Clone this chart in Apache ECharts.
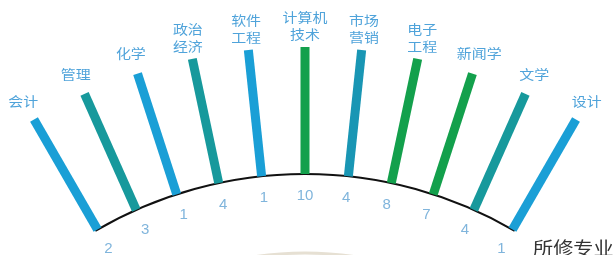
<!DOCTYPE html>
<html>
<head>
<meta charset="utf-8">
<script src="https://cdn.jsdelivr.net/npm/echarts@6/dist/echarts.min.js"></script>
<style>
html,body{margin:0;padding:0;background:#fff;}
#chart{width:615px;height:255px;}
</style>
</head>
<body>
<div id="chart"></div>
<script>
const categories = ['会计','管理','化学','政治\n经济','软件\n工程','计算机\n技术','市场\n营销','电子\n工程','新闻学','文学','设计'];
const counts = [2, 3, 1, 4, 1, 10, 4, 8, 7, 4, 1];
const barColors = ['#1a9fd6','#17999c','#1a9fd6','#17999c','#1a9fd6','#13a04c','#1996b4','#13a04c','#13a04c','#17999c','#1a9fd6'];
const axisTitle = '所修专业';

// radial positions (radius axis units, arc = 100)
const R_IN = 100, R_OUT = 130.6, R_NUM = 94.7, R_LABEL = 135.8;

const chart = echarts.init(document.getElementById('chart'));
const FONT = '"Noto Sans CJK SC", "Noto Sans", sans-serif';

chart.setOption({
  animation: false,
  polar: [
    { center: [305, 589], radius: 415 },
    { center: [305, 589], radius: 336 }
  ],
  angleAxis: [
    {
      // one category step = 6 degrees (60 steps over the full circle)
      polarIndex: 0, type: 'value', min: 0, max: 60, startAngle: 120, clockwise: true,
      axisLine: { show: false }, axisTick: { show: false }, axisLabel: { show: false },
      splitLine: { show: false }, splitArea: { show: false }
    },
    {
      polarIndex: 1, type: 'value', min: 0, max: 360, startAngle: 90,
      axisLine: { show: true, lineStyle: { color: '#e6e0d3', width: 3 } },
      axisTick: { show: false }, axisLabel: { show: false },
      splitLine: { show: false }, splitArea: { show: false }
    }
  ],
  radiusAxis: [
    { polarIndex: 0, type: 'value', min: 0, max: 100, show: false },
    { polarIndex: 1, type: 'value', min: 0, max: 100, show: false }
  ],
  graphic: [{
    type: 'text', x: 533, y: 248, scaleX: 1.12,
    style: { text: axisTitle, font: '18px ' + FONT, fill: '#333', verticalAlign: 'middle', align: 'left' }
  }],
  series: [
    {
      // the base arc from the first to the last category
      type: 'custom', coordinateSystem: 'polar', polarIndex: 0, silent: true,
      data: [[R_IN, 0]],
      renderItem: function (params, api) {
        const c = api.coord([0, 0]);
        const a = api.coord([R_IN, 0]);
        const b = api.coord([R_IN, categories.length - 1]);
        const r = Math.hypot(a[0] - c[0], a[1] - c[1]);
        return {
          type: 'arc',
          shape: { cx: c[0], cy: c[1], r: r,
            startAngle: Math.atan2(a[1] - c[1], a[0] - c[0]) - 0.006,
            endAngle: Math.atan2(b[1] - c[1], b[0] - c[0]) + 0.006, clockwise: true },
          style: { stroke: '#111', lineWidth: 2, fill: null }
        };
      }
    },
    {
      type: 'custom',
      coordinateSystem: 'polar',
      polarIndex: 0,
      data: counts,
      renderItem: function (params, api) {
        const i = params.dataIndex;
        const p0 = api.coord([R_IN, i]);
        const p1 = api.coord([R_OUT, i]);
        const pn = api.coord([R_NUM, i]);
        const pl = api.coord([R_LABEL, i]);
        return {
          type: 'group',
          children: [
            { type: 'line', shape: { x1: p0[0], y1: p0[1], x2: p1[0], y2: p1[1] },
              style: { stroke: barColors[i], lineWidth: 9, lineCap: 'butt' } },
            { type: 'text', x: pn[0], y: pn[1],
              style: { text: String(counts[i]), font: '15px "Liberation Sans", sans-serif', fill: '#80b5dc', align: 'center', verticalAlign: 'middle' } },
            { type: 'text', x: pl[0], y: pl[1], scaleX: 1.15,
              style: { text: categories[i], font: '13px ' + FONT, lineHeight: 17, fill: '#4fa3da', align: 'center', verticalAlign: 'middle' } }
          ]
        };
      }
    }
  ]
});
</script>
</body>
</html>
